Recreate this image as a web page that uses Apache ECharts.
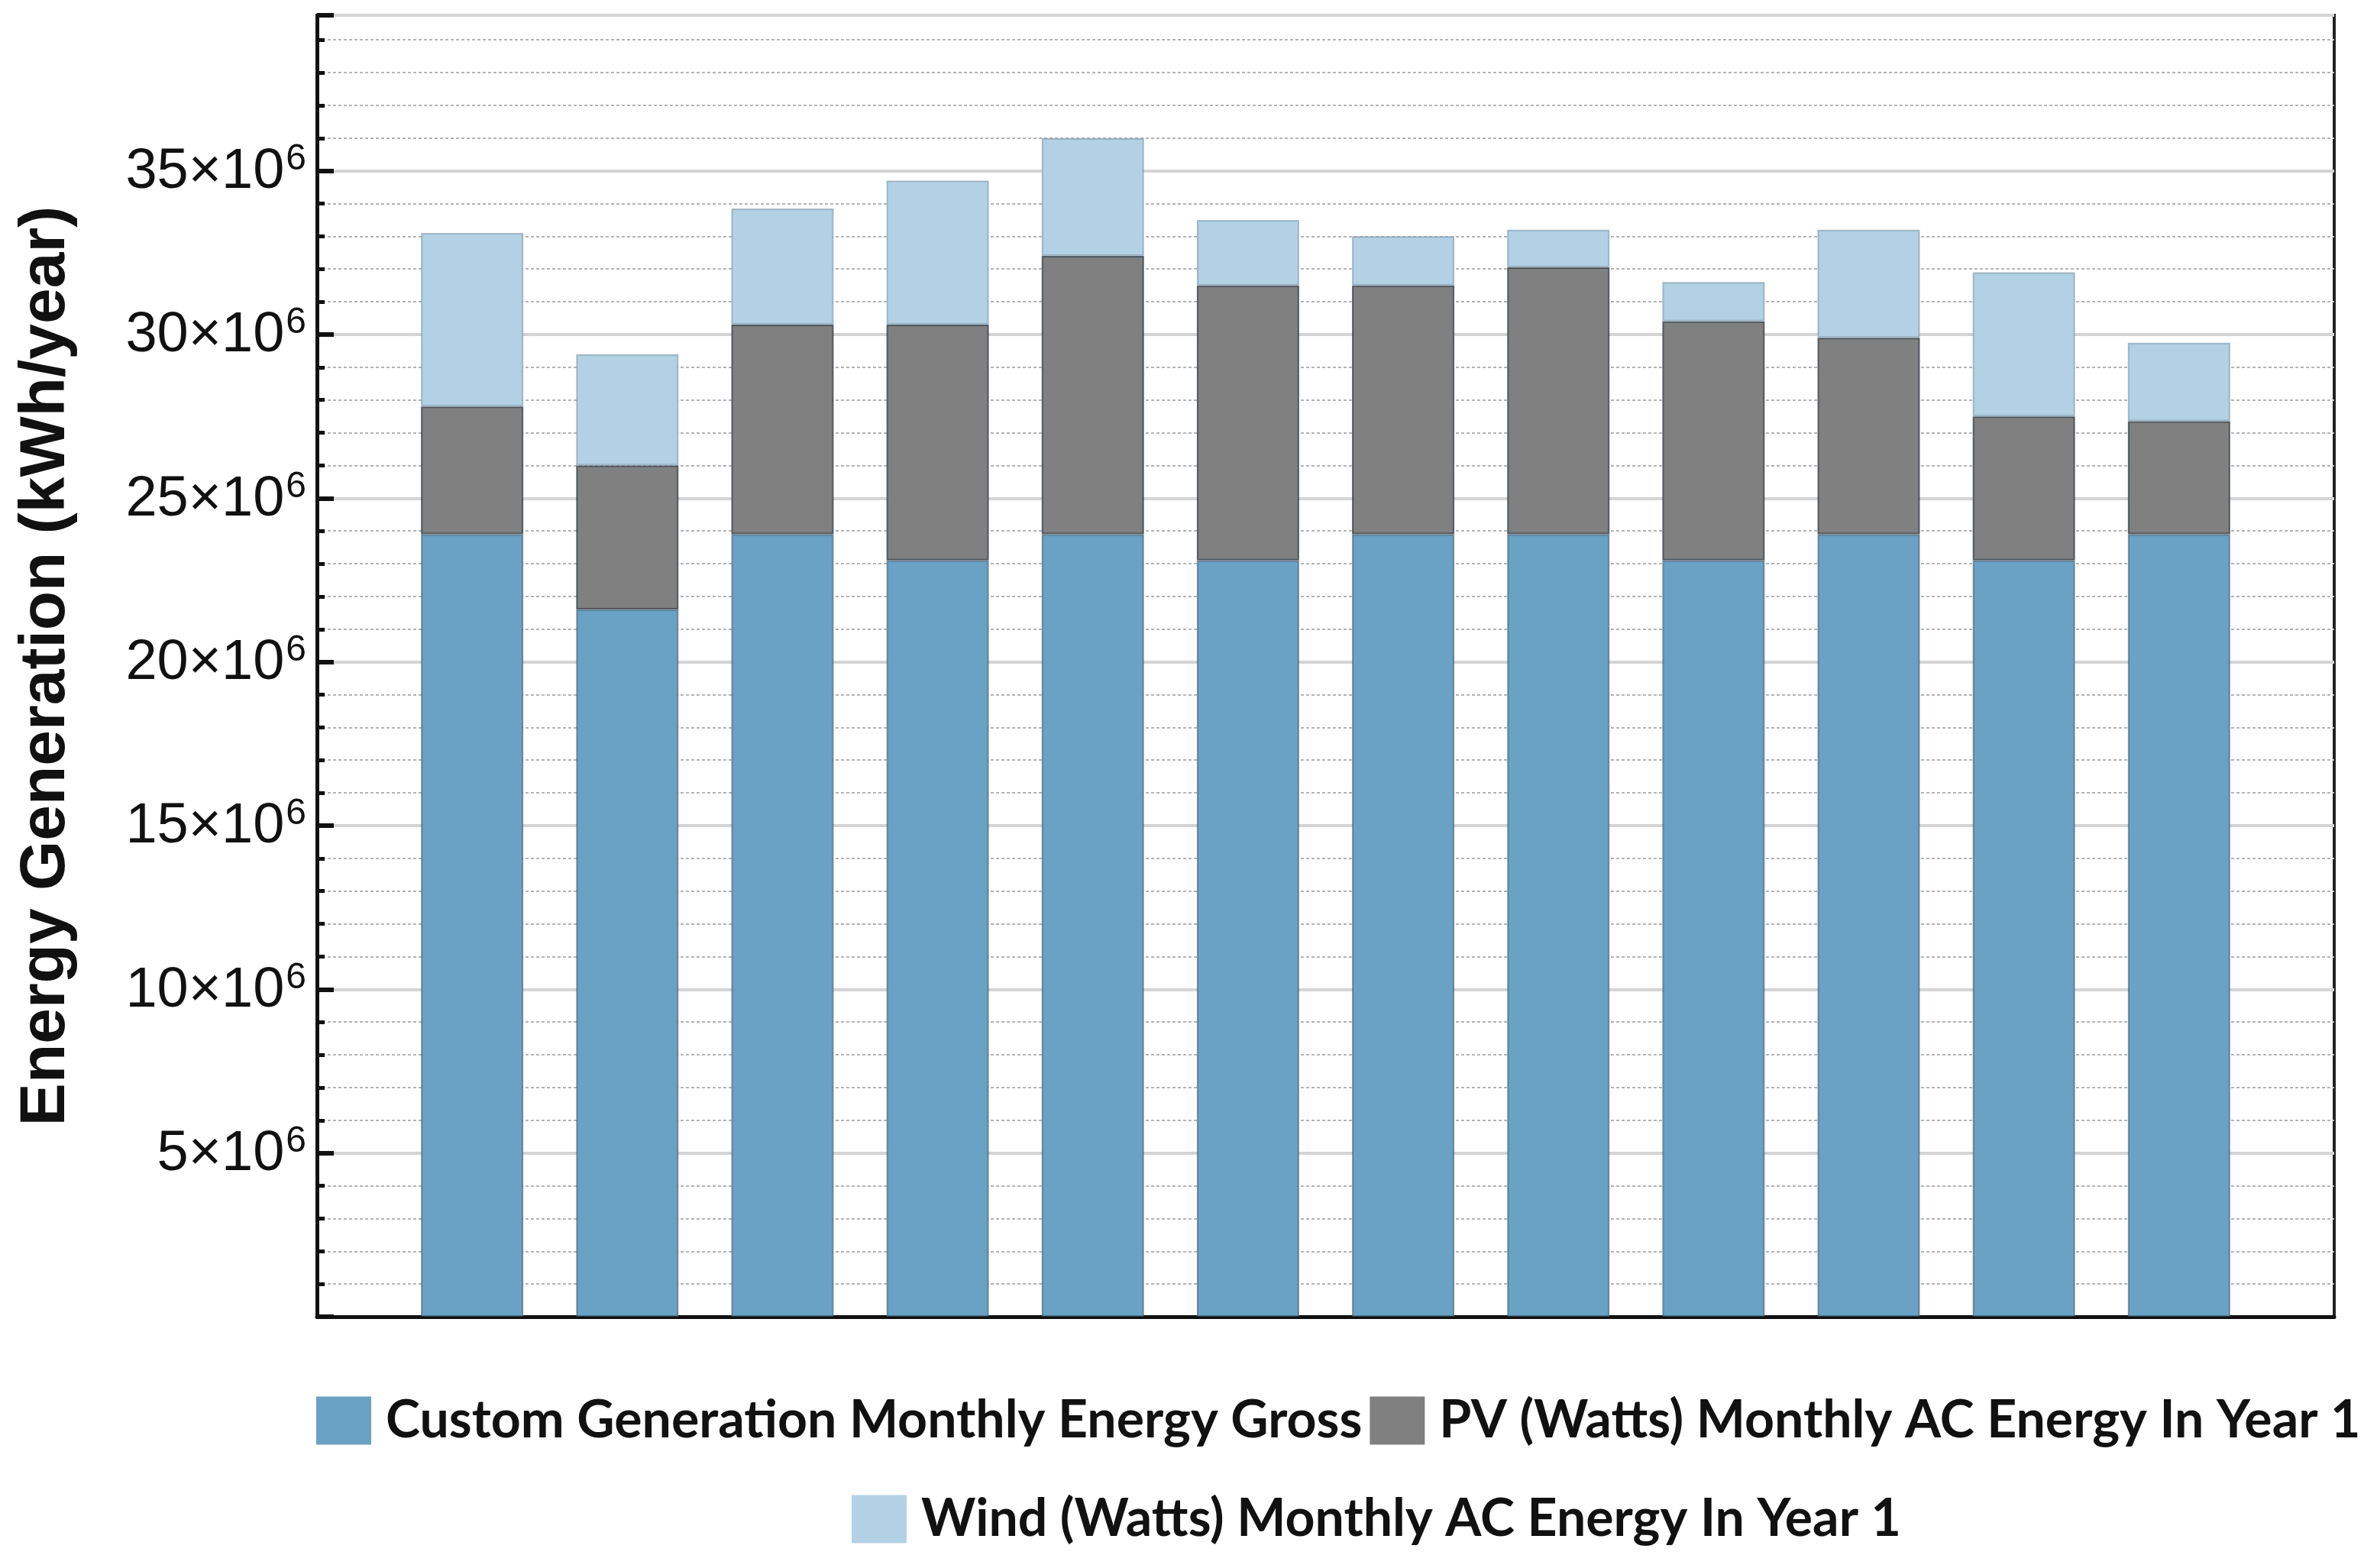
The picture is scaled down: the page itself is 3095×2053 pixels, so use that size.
<!DOCTYPE html>
<html>
<head>
<meta charset="utf-8">
<script src="https://cdn.jsdelivr.net/npm/echarts@6/dist/echarts.min.js"></script>
<style>
html,body{margin:0;padding:0;background:#fff;}
#chart{width:3095px;height:2053px;}
</style>
</head>
<body>
<div id="chart"></div>
<script>
// Months (no labels are drawn in the original)
const months = ['Jan','Feb','Mar','Apr','May','Jun','Jul','Aug','Sep','Oct','Nov','Dec'];
// Stacked segments, kWh
const customGross = [23.9e6, 21.6e6, 23.9e6, 23.1e6, 23.9e6, 23.1e6, 23.9e6, 23.9e6, 23.1e6, 23.9e6, 23.1e6, 23.9e6];
const pvEnergy    = [3.9e6, 4.4e6, 6.4e6, 7.2e6, 8.5e6, 8.4e6, 7.6e6, 8.15e6, 7.3e6, 6.0e6, 4.4e6, 3.45e6];
const windEnergy  = [5.3e6, 3.4e6, 3.55e6, 4.4e6, 3.6e6, 2.0e6, 1.5e6, 1.15e6, 1.2e6, 3.3e6, 4.4e6, 2.4e6];
const seriesNames = ['Custom Generation Monthly Energy Gross', 'PV (Watts) Monthly AC Energy In Year 1', 'Wind (Watts) Monthly AC Energy In Year 1'];
const yMin = 0, yMax = 39.75e6, yStep = 5e6; // labelled ticks 5×10^6 … 35×10^6

const chart = echarts.init(document.getElementById('chart'), null, {renderer: 'canvas'});
const option = {
  backgroundColor: '#ffffff',
  animation: false,
  grid: {left: 415, right: 39, top: 20, bottom: 329, show: true, borderColor: '#222', borderWidth: 4, backgroundColor: 'transparent'},
  xAxis: {
    type: 'category', data: months, boundaryGap: false, min: -1, max: months.length,
    axisLabel: {show: false}, axisTick: {show: false},
    splitLine: {show: false},
    axisLine: {show: true, lineStyle: {color: '#111', width: 5}}
  },
  yAxis: {
    type: 'value', min: yMin, max: yMax, interval: yStep,
    name: 'Energy Generation (kWh/year)', nameLocation: 'middle', nameGap: 312,
    nameTextStyle: {fontFamily: 'Liberation Sans', fontWeight: 'bold', fontSize: 84, color: '#111'},
    axisLine: {show: true, lineStyle: {color: '#111', width: 5}},
    axisTick: {show: true, inside: true, length: 22, lineStyle: {color: '#111', width: 6}},
    minorTick: {show: true, splitNumber: 5, length: 10, lineStyle: {color: '#111', width: 5}},
    splitLine: {show: true, lineStyle: {color: '#d4d4d4', width: 4}},
    minorSplitLine: {show: true, lineStyle: {color: '#b4b4b4', width: 2, type: [4, 3]}},
    axisLabel: {
      margin: 14, showMaxLabel: false,
      formatter: v => (v === 0 || v > 35e6) ? '' : '{m|' + (v / 1e6) + '×10}{s|6}',
      rich: {
        m: {fontFamily: 'Liberation Sans', fontSize: 74, color: '#111', lineHeight: 78, verticalAlign: 'bottom'},
        s: {fontFamily: 'Liberation Sans', fontSize: 48, color: '#111', lineHeight: 78, verticalAlign: 'top', padding: [0, 0, 22, 2]}
      }
    }
  },
  legend: [
    {
      data: [seriesNames[0], seriesNames[1]],
      left: 414, top: 1826, width: 2681, padding: 0, orient: 'horizontal',
      itemWidth: 72, itemHeight: 63, itemGap: 10, icon: 'rect',
      itemStyle: {borderWidth: 0},
      textStyle: {fontFamily: 'Lato', fontWeight: 'bold', fontSize: 68, color: '#111', padding: [0, 0, 0, 14]}
    },
    {
      data: [seriesNames[2]],
      left: 1115, top: 1955, width: 1900, padding: 0, orient: 'horizontal',
      itemWidth: 72, itemHeight: 63, icon: 'rect',
      itemStyle: {borderWidth: 0},
      textStyle: {fontFamily: 'Lato', fontWeight: 'bold', fontSize: 68, color: '#111', padding: [0, 0, 0, 14]}
    }
  ],
  series: [
    {name: seriesNames[0], type: 'bar', stack: 'total', barWidth: 134, data: customGross,
     itemStyle: {color: '#6aa2c5', borderColor: 'rgba(60,90,110,0.6)', borderWidth: 2}},
    {name: seriesNames[1], type: 'bar', stack: 'total', barWidth: 134, data: pvEnergy,
     itemStyle: {color: '#808080', borderColor: 'rgba(50,60,70,0.75)', borderWidth: 2}},
    {name: seriesNames[2], type: 'bar', stack: 'total', barWidth: 134, data: windEnergy,
     itemStyle: {color: '#b3d1e4', borderColor: 'rgba(120,150,170,0.6)', borderWidth: 2}}
  ]
};
chart.setOption(option);
</script>
</body>
</html>
